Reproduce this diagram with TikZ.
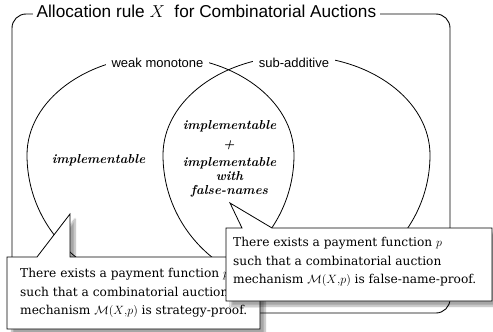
\documentclass[tikz,border=0pt]{standalone}
\usepackage{fontspec}
\newfontfamily\boxfont{DejaVu Serif}
\newfontfamily\labelfont{Liberation Sans}
\usetikzlibrary{shadows.blur}
\begin{document}
\begin{tikzpicture}[x=1pt, y=-1pt,
  frame/.style={line width=0.9pt, rounded corners=14pt},
  setline/.style={line width=0.8pt},
  setlabel/.style={fill=white, inner xsep=6pt, inner ysep=5pt,
    font=\labelfont\fontsize{13}{15}\selectfont},
  inside/.style={font=\fontsize{13}{14}\selectfont\bfseries\itshape, align=center, inner sep=0pt},
  callout/.style={draw, line width=0.8pt, fill=white,
    blur shadow={shadow xshift=5pt, shadow yshift=-5pt, shadow blur steps=8, shadow opacity=35}},
  callouttext/.style={font=\boxfont\fontsize{12.2}{18.5}\selectfont, align=left, inner sep=0pt}
]
\useasboundingbox (0,0) rectangle (493,332);

% outer frame with its title
\draw[frame] (12,14) rectangle (450,313);
\node[anchor=base west, fill=white, inner xsep=3.5pt, inner ysep=2pt,
  font=\labelfont\fontsize{17.2}{19}\selectfont] (title) at (33,17.5)
  {Allocation rule $X$\ \ for Combinatorial Auctions};

% the two egg-shaped sets
\draw[setline] (294,155) arc[start angle=0, end angle=180, x radius=133.5pt, y radius=99pt]
                         arc[start angle=180, end angle=360, x radius=133.5pt, y radius=132pt];
\draw[setline] (430,155) arc[start angle=0, end angle=180, x radius=133.5pt, y radius=99pt]
                         arc[start angle=180, end angle=360, x radius=133.5pt, y radius=132pt];

\node[setlabel] (mono) at (157.5,63) {weak monotone};
\node[setlabel] (subadd) at (294,63) {sub-additive};

\node[inside] (implA) at (98.5,160) {implementable};
\node[inside] (implB) at (229.5,126) {implementable};
\node[inside] (plus) at (229,145) {+};
\node[inside] (implC) at (229.5,177) {implementable\\with\\false-names};

% speech balloons
\draw[callout] (7,257) -- (37,257) -- (70,214) -- (70,257) -- (260,257) -- (260,329) -- (7,329) -- cycle;
\node[callouttext, anchor=west] (textA) at (20,293)
  {There exists a payment function $p$\\
   such that a combinatorial auction\\
   mechanism $\mathcal{M}(X{,}p)$ is strategy-proof.};

\draw[callout] (226,228) -- (242,228) -- (230,203) -- (272,228) -- (492,228) -- (492,301) -- (226,301) -- cycle;
\node[callouttext, anchor=west] (textB) at (233,262)
  {There exists a payment function $p$\\
   such that a combinatorial auction\\
   mechanism $\mathcal{M}(X{,}p)$ is false-name-proof.};
\end{tikzpicture}
\end{document}
